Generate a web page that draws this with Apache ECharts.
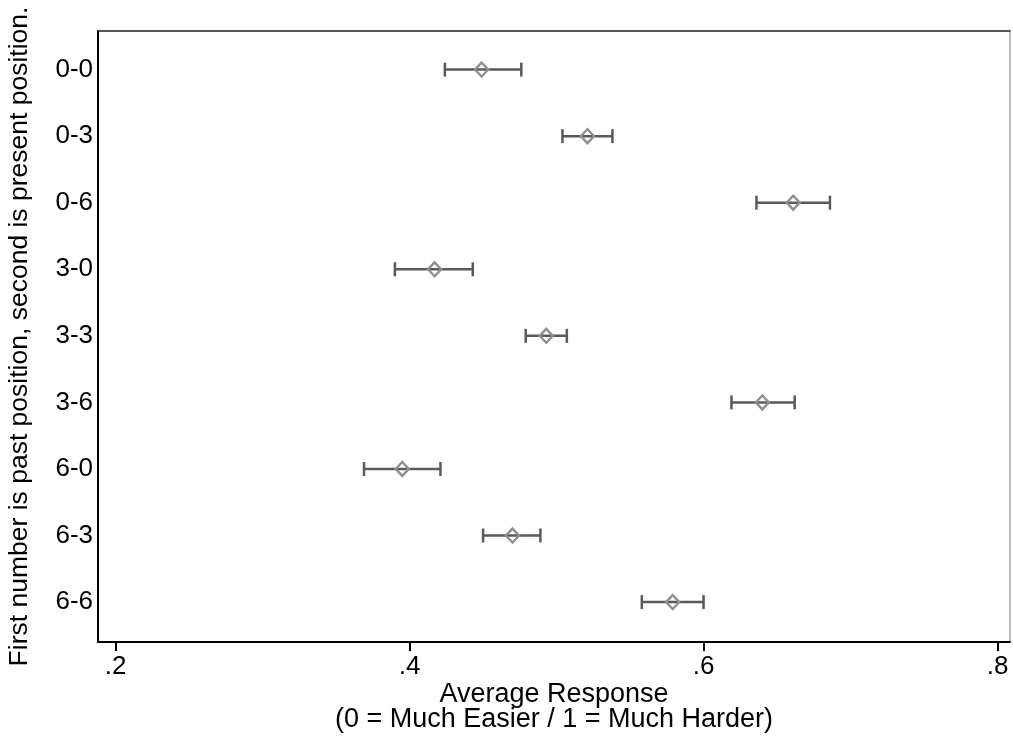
<!DOCTYPE html>
<html>
<head>
<meta charset="utf-8">
<script src="https://cdn.jsdelivr.net/npm/echarts@6/dist/echarts.min.js"></script>
<style>html,body{margin:0;padding:0;background:#fff}#c{width:1013px;height:742px}</style>
</head>
<body>
<div id="c"></div>
<script>
const categories = ['0-0','0-3','0-6','3-0','3-3','3-6','6-0','6-3','6-6'];
const means = [0.449, 0.521, 0.661, 0.417, 0.493, 0.640, 0.395, 0.470, 0.579];
const lows  = [0.424, 0.504, 0.636, 0.390, 0.479, 0.619, 0.369, 0.450, 0.558];
const highs = [0.476, 0.538, 0.686, 0.443, 0.507, 0.662, 0.421, 0.489, 0.600];
const xTicks = [0.2, 0.4, 0.6, 0.8];
const yTicks = categories.map((c, i) => i);

const chart = echarts.init(document.getElementById('c'), null, {renderer: 'canvas'});
const font = 'Liberation Sans, Arial, Helvetica, sans-serif';
const errData = categories.map((c, i) => [i, lows[i], highs[i]]);
const ptData = categories.map((c, i) => [means[i], i]);

chart.setOption({
  animation: false,
  backgroundColor: '#fff',
  grid: {left: 98, right: 3, top: 31, bottom: 100, containLabel: false, outerBoundsMode: 'none'},
  xAxis: [{
    type: 'value', min: 0.188, max: 0.8085, position: 'bottom',
    axisLine: {show: true, onZero: false, lineStyle: {color: '#000', width: 2}},
    axisTick: {show: true, length: 9, customValues: xTicks, lineStyle: {color: '#000', width: 2}},
    axisLabel: {customValues: xTicks, fontSize: 26, color: '#000', fontFamily: font, margin: 12,
      formatter: v => String(v).replace(/^0\./, '.')},
    splitLine: {show: false},
    name: 'Average Response\n(0 = Much Easier / 1 = Much Harder)',
    nameLocation: 'middle', nameGap: 40, nameMoveOverlap: false,
    nameTextStyle: {fontSize: 27, color: '#000', fontFamily: font, lineHeight: 25, verticalAlign: 'top'}
  }, {
    type: 'value', min: 0.188, max: 0.8085, position: 'top',
    axisLine: {show: true, onZero: false, lineStyle: {color: '#222', width: 1.5}},
    axisTick: {show: false}, axisLabel: {show: false}, splitLine: {show: false}
  }],
  yAxis: [{
    type: 'value', inverse: true, min: -0.58, max: 8.6, position: 'left',
    axisLine: {show: true, onZero: false, lineStyle: {color: '#000', width: 2}},
    axisTick: {show: false},
    axisLabel: {customValues: yTicks, fontSize: 26, color: '#000', fontFamily: font, margin: 5,
      formatter: v => categories[Math.round(v)]},
    splitLine: {show: false},
    name: 'First number is past position, second is present position.',
    nameLocation: 'middle', nameGap: 65,
    nameTextStyle: {fontSize: 26.5, color: '#000', fontFamily: font}
  }, {
    type: 'value', inverse: true, min: -0.58, max: 8.6, position: 'right',
    axisLine: {show: true, onZero: false, lineStyle: {color: '#aaa', width: 1.5}},
    axisTick: {show: false}, axisLabel: {show: false}, splitLine: {show: false}
  }],
  series: [{
    type: 'custom',
    data: errData,
    renderItem: function (params, api) {
      const y = api.value(0);
      const lo = api.coord([api.value(1), y]);
      const hi = api.coord([api.value(2), y]);
      const h = 7;
      const st = {stroke: '#5a5a5a', lineWidth: 2.5, fill: null};
      return {type: 'group', children: [
        {type: 'line', shape: {x1: lo[0], y1: lo[1], x2: hi[0], y2: hi[1]}, style: st},
        {type: 'line', shape: {x1: lo[0], y1: lo[1] - h, x2: lo[0], y2: lo[1] + h}, style: st},
        {type: 'line', shape: {x1: hi[0], y1: hi[1] - h, x2: hi[0], y2: hi[1] + h}, style: st}
      ]};
    },
    encode: {x: [1, 2], y: 0},
    z: 2
  }, {
    type: 'scatter',
    data: ptData,
    symbol: 'diamond',
    symbolSize: [13, 14],
    itemStyle: {color: 'rgba(255,255,255,0)', borderColor: '#8f8f8f', borderWidth: 2.4, opacity: 1},
    z: 3
  }]
});
</script>
</body>
</html>
